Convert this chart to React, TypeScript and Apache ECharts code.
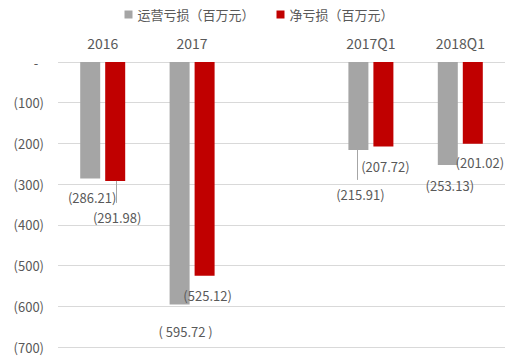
import React, { useEffect, useRef } from "react";
import * as echarts from "echarts";

const categories = ["2016", "2017", "", "2017Q1", "2018Q1"];
const operatingLoss = [-286.21, -595.72, null, -215.91, -253.13];
const netLoss = [-291.98, -525.12, null, -207.72, -201.02];
const yTicks = [0, -100, -200, -300, -400, -500, -600, -700];
const seriesNames = ["运营亏损（百万元）", "净亏损（百万元）"];

// label offsets (px) and leader lines: [categoryIndex, seriesIndex, lengthPx, dxPx]
const opOffsets: number[][] = [[2, 7], [6, 15], [0, 0], [2, 33], [2, 9]];
const netOffsets: number[][] = [[2, 25], [3, 8], [0, 0], [2, 8], [7, 7]];
const opSpaced = [false, true, false, false, false];
const leaders: number[][] = [
  [0, 1, 22, 1],
  [3, 0, 30, -1],
];

const fmt = (v: number, spaced?: boolean) =>
  spaced ? "( " + Math.abs(v).toFixed(2) + " )" : "(" + Math.abs(v).toFixed(2) + ")";

const FONT = "'Noto Sans CJK SC', 'Noto Sans', sans-serif";
const TXT = "#595959";
const BAR_W = 20;
const BAR_SHIFT = 12.5;

function build(values: (number | null)[], offsets: number[][], spaced?: boolean[]) {
  return values.map((v, i) =>
    v === null
      ? "-"
      : {
          value: v,
          label: {
            offset: offsets[i],
            formatter: () => fmt(v, spaced ? spaced[i] : false),
          },
        }
  );
}

export default function App() {
  const ref = useRef<HTMLDivElement>(null);
  useEffect(() => {
    if (!ref.current) return;
    const chart = echarts.init(ref.current, null, { renderer: "svg" });
    const labelBase = {
      show: true,
      position: "bottom",
      distance: 5,
      color: TXT,
      fontSize: 13,
      fontFamily: FONT,
    };
    const leaderData = leaders.map(([c, s, len, dx]) => [
      c,
      (s === 0 ? operatingLoss : netLoss)[c] as number,
      s,
      len,
      dx,
    ]);
    chart.setOption({
      animation: false,
      backgroundColor: "#ffffff",
      legend: {
        top: 3,
        left: "center",
        itemWidth: 8,
        itemHeight: 8,
        itemGap: 22,
        icon: "rect",
        textStyle: { color: TXT, fontSize: 13, fontFamily: FONT },
        data: seriesNames,
      },
      grid: { left: 58, right: 13, top: 62, bottom: 15, containLabel: false },
      xAxis: {
        type: "category",
        position: "top",
        data: categories,
        axisLine: { show: false },
        axisTick: { show: false },
        axisLabel: { color: TXT, fontSize: 14, fontFamily: FONT, margin: 12 },
      },
      yAxis: {
        type: "value",
        min: yTicks[yTicks.length - 1],
        max: yTicks[0],
        interval: 100,
        axisLine: { show: false },
        axisTick: { show: false },
        splitLine: { lineStyle: { color: "#d9d9d9", width: 1 } },
        axisLabel: {
          color: TXT,
          fontSize: 13,
          fontFamily: FONT,
          margin: 14,
          formatter: (v: number) => (v === 0 ? "-  " : "(" + Math.abs(v) + ")"),
        },
      },
      series: [
        {
          name: seriesNames[0],
          type: "bar",
          barWidth: BAR_W,
          barGap: "25%",
          itemStyle: { color: "#a5a5a5" },
          label: labelBase,
          data: build(operatingLoss, opOffsets, opSpaced),
        },
        {
          name: seriesNames[1],
          type: "bar",
          barWidth: BAR_W,
          barGap: "25%",
          itemStyle: { color: "#c00000" },
          label: labelBase,
          data: build(netLoss, netOffsets),
        },
        {
          name: "leaders",
          type: "custom",
          silent: true,
          z: 5,
          encode: { x: 0, y: 1 },
          data: leaderData,
          renderItem: (params: any, api: any) => {
            const p = api.coord([api.value(0), api.value(1)]);
            const s = api.value(2);
            const len = api.value(3);
            const dx = api.value(4);
            const x = Math.round(p[0] + (s === 0 ? -BAR_SHIFT : BAR_SHIFT) + dx) + 0.5;
            return {
              type: "line",
              shape: { x1: x, y1: p[1], x2: x, y2: p[1] + len },
              style: { stroke: "#a6a6a6", lineWidth: 1 },
            };
          },
        },
      ],
    });
    return () => chart.dispose();
  }, []);
  return <div ref={ref} style={{ width: 518, height: 362, position: "absolute", left: 0, top: 0 }} />;
}
